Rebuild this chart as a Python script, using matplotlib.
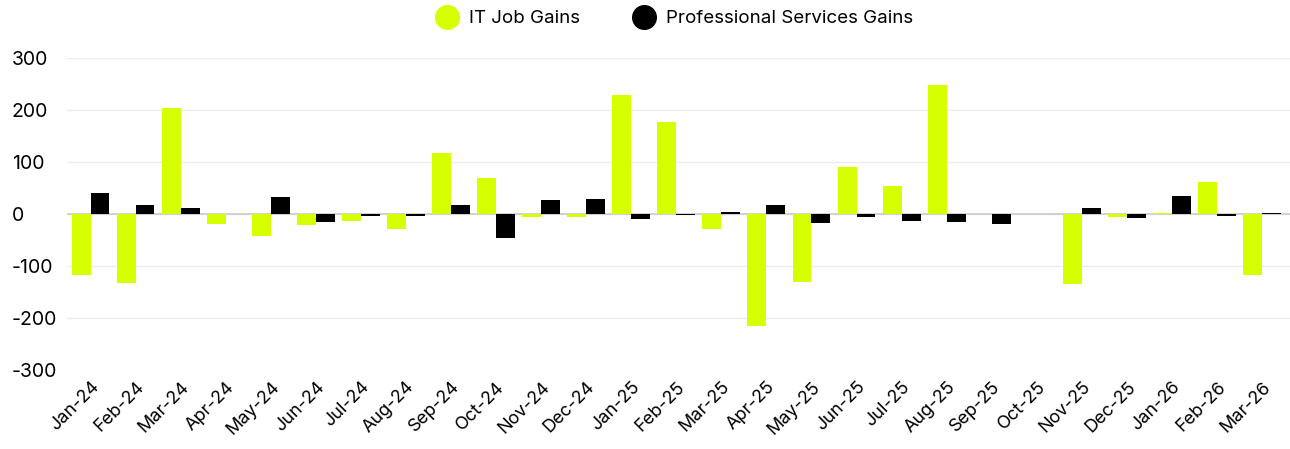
import matplotlib
matplotlib.use("Agg")
import matplotlib.pyplot as plt
from matplotlib.lines import Line2D
import numpy as np

plt.rcParams['font.family'] = ['Inter', 'DejaVu Sans']
plt.rcParams['axes.unicode_minus'] = False

months = ['Jan-24', 'Feb-24', 'Mar-24', 'Apr-24', 'May-24', 'Jun-24', 'Jul-24',
          'Aug-24', 'Sep-24', 'Oct-24', 'Nov-24', 'Dec-24', 'Jan-25', 'Feb-25',
          'Mar-25', 'Apr-25', 'May-25', 'Jun-25', 'Jul-25', 'Aug-25', 'Sep-25',
          'Oct-25', 'Nov-25', 'Dec-25', 'Jan-26', 'Feb-26', 'Mar-26']
it_gains = [-118, -133, 204, -19, -42, -21, -13, -28, 118, 70, -5, -5, 228, 177,
            -29, -216, -131, 91, 54, 248, 0, 0, -135, -6, 1, 61, -118]
prof_gains = [40, 17, 11, -1, 32, -16, -3, -3, 17, -47, 26, 28, -10, -2,
              3, 17, -17, -6, -13, -16, -19, 0, 12, -8, 35, -4, 1]

lime = '#d6ff00'
fig = plt.figure(figsize=(12.9, 4.49), dpi=100)
ax = fig.add_axes([0.052, 0.176, 0.948, 0.695])

x = np.arange(len(months))
w = 0.42
ax.bar(x - w / 2, it_gains, width=w, color=lime, zorder=3)
ax.bar(x + w / 2, prof_gains, width=w, color='black', zorder=3)

ax.set_ylim(-300, 300)
ax.set_yticks([-300, -200, -100, 0, 100, 200, 300])
ax.set_xlim(-0.52, 26.62)
ax.set_xticks(x)
ax.set_xticklabels(months, rotation=45, ha='right', rotation_mode='anchor', fontsize=13)
ax.tick_params(axis='y', labelsize=14, length=0, pad=2)
ax.tick_params(axis='x', length=0, pad=6)
for lab in ax.get_yticklabels():
    lab.set_horizontalalignment('left')
    lab.set_x(-0.043)

ax.grid(axis='y', color='#ececec', linewidth=1, zorder=0)
ax.axhline(0, color='#cccccc', linewidth=1.2, zorder=2)
for s in ax.spines.values():
    s.set_visible(False)

handles = [Line2D([], [], marker='o', linestyle='', markersize=17, color=lime),
           Line2D([], [], marker='o', linestyle='', markersize=17, color='black')]
fig.legend(handles, ['IT Job Gains', 'Professional Services Gains'], loc='upper center',
           bbox_to_anchor=(0.52, 1.015), ncol=2, frameon=False, fontsize=13.5,
           handletextpad=0.2, columnspacing=2.4)

fig.savefig('out.png', dpi=100)
